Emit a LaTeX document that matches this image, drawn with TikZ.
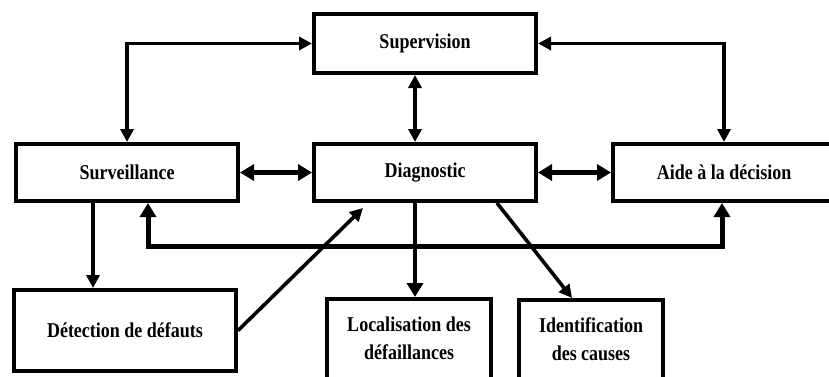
\documentclass[tikz,border=0pt]{standalone}
\usepackage{fontspec}
\setmainfont{Liberation Serif}
\usetikzlibrary{arrows.meta}
% slightly tall lettering used in every box
\newcommand{\tallbox}[1]{\scalebox{1}[1.17]{#1}}
\newcommand{\twolines}[2]{\tallbox{\begin{tabular}{@{}c@{}}#1\\#2\end{tabular}}}
\begin{document}
\begin{tikzpicture}[x=1pt, y=-1pt,
  block/.style={draw, line width=4pt, inner sep=0pt, minimum width=222pt,
    font=\bfseries\fontsize{18}{24}\selectfont},
  tip/.style={Triangle[length=13pt,width=13pt]},
  bigtip/.style={Triangle[length=14pt,width=16pt]},
  link/.style={line width=3.6pt, {Triangle[length=13pt,width=13pt]}-{Triangle[length=13pt,width=13pt]}},
  hlink/.style={line width=4.6pt, {Triangle[length=14pt,width=16pt]}-{Triangle[length=14pt,width=16pt]}},
  buslink/.style={line width=5pt, {Triangle[length=14pt,width=16pt]}-{Triangle[length=14pt,width=16pt]}},
  feed/.style={line width=3.6pt, -{Triangle[length=13pt,width=13pt]}},
  thickfeed/.style={line width=4.8pt, -{Triangle[length=14pt,width=16pt]}}
]
\useasboundingbox (0,0) rectangle (829,376);
\clip (0,0) rectangle (829,376);

% upper level
\node[block, minimum height=59pt] (sup) at (425,43.5) {\tallbox{Supervision}};

% middle level
\node[block, minimum height=57pt] (surv) at (127,172.5) {\tallbox{Surveillance}};
\node[block, minimum height=57pt] (diag) at (425,172.5) {\tallbox{Diagnostic}};
\node[block, minimum height=57pt] (aide) at (724,172.5) {\tallbox{Aide à la décision}};

% lower level
\node[block, minimum height=81pt] (det) at (125,330.5) {\tallbox{Détection de défauts}};
\node[block, minimum width=164pt, minimum height=81pt] (loc) at (409,339.5)
  {\twolines{Localisation des}{défaillances}};
\node[block, minimum width=144pt, minimum height=81pt] (ident) at (591,340.5)
  {\twolines{Identification}{des causes}};

% exchanges with the supervision
\draw[link] (sup.west) -| (surv.north);
\draw[link] (sup.east) -| (aide.north);
\draw[link] ([xshift=-10pt]sup.south) -- ([xshift=-10pt]diag.north);

% exchanges on the middle level
\draw[hlink] (surv.east) -- (diag.west);
\draw[hlink] (diag.east) -- (aide.west);

% return bus below the middle level
\coordinate (busL) at (148,246);
\coordinate (busR) at (722,246);
\draw[buslink] (busL |- surv.south) -- (busL) -- (busR) -- (busR |- aide.south);

% detection chain
\draw[feed] ([xshift=-34pt]surv.south) -- ([xshift=-34pt]surv.south |- det.north);
\coordinate (dtip) at ([shift={(-62,5)}]diag.south);
\draw[feed] (det.east) -- (dtip);

% outputs of the diagnosis
\draw[thickfeed] ([xshift=-10pt]diag.south) -- ([xshift=-10pt]diag.south |- loc.north);
\draw[feed] ([xshift=72pt]diag.south) -- ([xshift=-19pt]ident.north);
\end{tikzpicture}
\end{document}
